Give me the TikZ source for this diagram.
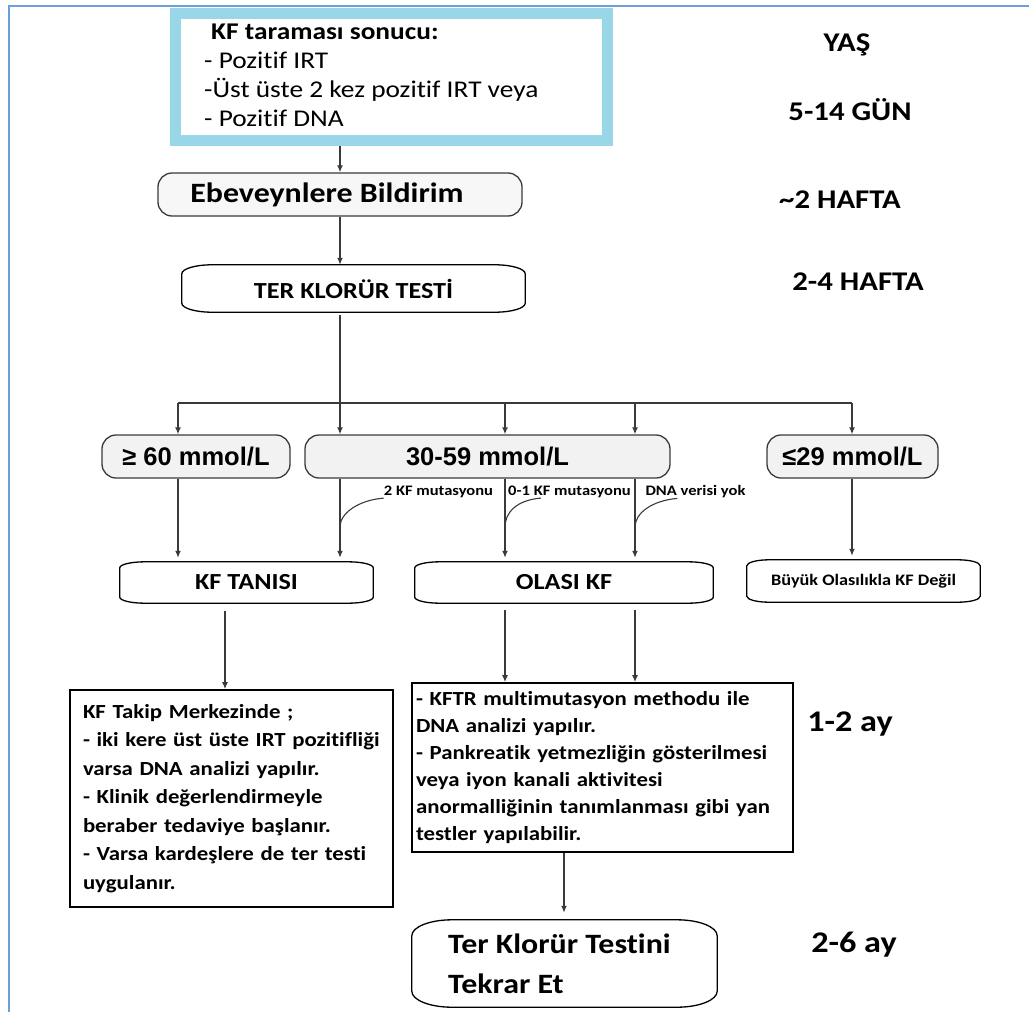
\documentclass[tikz,border=0pt]{standalone}
\usepackage{fontspec}
\setmainfont{Carlito}[FakeStretch=1.14, Ligatures={NoCommon,NoRare}]
\newfontfamily\arialfont{Liberation Sans}
\usetikzlibrary{arrows.meta,calc}

\definecolor{linec}{HTML}{3A3A3A}
\definecolor{cyanf}{HTML}{98D6E8}
\definecolor{framec}{HTML}{6A9FDC}
\definecolor{pillf}{HTML}{F2F2F2}

\newcommand\ellframe[3]{%
  \draw[boxline] ($(#1.north west)+(#2,0)$) -- ($(#1.north east)+(-#2,0)$)
    arc[start angle=90,end angle=0,x radius=#2,y radius=#3]
    -- ($(#1.south east)+(0,#3)$)
    arc[start angle=0,end angle=-90,x radius=#2,y radius=#3]
    -- ($(#1.south west)+(#2,0)$)
    arc[start angle=-90,end angle=-180,x radius=#2,y radius=#3]
    -- ($(#1.north west)+(0,-#3)$)
    arc[start angle=180,end angle=90,x radius=#2,y radius=#3] -- cycle;}

\begin{document}
\begin{tikzpicture}[x=1pt,y=1pt,
  arr/.style={draw=linec, line width=1.5pt, -{Latex[length=7pt,width=6pt]}},
  plainline/.style={draw=linec, line width=1.5pt},
  callout/.style={draw=linec, line width=1.1pt},
  boxline/.style={draw=black, line width=1.3pt},
  pill/.style={draw=linec, line width=1.3pt, fill=pillf, rounded corners=14pt, inner sep=0pt},
  ellnode/.style={inner sep=0pt},
  sqbox/.style={draw=black, line width=1.6pt, inner ysep=0pt, align=left},
  timel/.style={font=\bfseries\fontsize{27}{32}\selectfont},
  timem/.style={font=\bfseries\fontsize{30}{34}\selectfont},
  rangetxt/.style={font=\arialfont\bfseries\fontsize{25.5}{30}\selectfont},
  smalllab/.style={inner sep=0pt, font=\bfseries\fontsize{14.5}{16}\selectfont}
]
\useasboundingbox (0,0) rectangle (1029,-1012);

% outer frame
\draw[framec, line width=1.8pt] (9,-1012) -- (9,-6) -- (1029,-6);

% top screening box
\node[draw=cyanf, line width=11pt, minimum width=432pt, minimum height=127pt, inner sep=0pt] (scr) at (391.5,-77) {};
\node[anchor=west, align=left, inner sep=0pt, font=\fontsize{24}{29}\selectfont] (scrtxt) at (204,-75)
  {\hspace*{7pt}\textbf{KF taraması sonucu:}\\- Pozitif IRT\\-Üst üste 2 kez pozitif IRT veya\\- Pozitif DNA};

% Ebeveynlere
\node[pill, fill=pillf!60, minimum width=364pt, minimum height=43pt, font=\bfseries\fontsize{28}{32}\selectfont] (ebev) at (340,-194.5) {Ebeveynlere Bildirim\hspace*{26pt}};

% TER KLORUR TESTI
\node[ellnode, minimum width=343pt, minimum height=47pt, font=\bfseries\fontsize{23}{28}\selectfont] (ter) at (353.5,-288.5) {TER KLORÜR TESTİ};
\ellframe{ter}{30}{9}

% range boxes
\node[pill, rangetxt, minimum width=188pt, minimum height=43pt] (r1) at (196,-456.5) {≥ 60 mmol/L};
\node[pill, rangetxt, minimum width=365pt, minimum height=43pt] (r2) at (487.5,-456.5) {30-59 mmol/L};
\node[pill, rangetxt, minimum width=171pt, minimum height=43pt] (r3) at (852.5,-456.5) {≤29 mmol/L};

% result boxes
\node[ellnode, minimum width=253pt, minimum height=41pt, font=\bfseries\fontsize{23}{28}\selectfont] (t1) at (246.5,-582.5) {KF TANISI};
\ellframe{t1}{25}{6}
\node[ellnode, minimum width=298pt, minimum height=41pt, font=\bfseries\fontsize{23}{28}\selectfont] (t2) at (564,-582.5) {OLASI KF};
\ellframe{t2}{25}{6}
\node[ellnode, minimum width=233pt, minimum height=42pt, font=\bfseries\fontsize{16}{20}\selectfont] (t3) at (863.5,-581) {Büyük Olasılıkla KF Değil};
\ellframe{t3}{22}{6}

% labels on branches
\node[smalllab] (l1) at (438.5,-492) {2 KF mutasyonu};
\node[smalllab] (l2) at (569.5,-492) {0-1 KF mutasyonu};
\node[smalllab] (l3) at (695.5,-492) {DNA verisi yok};

% lower boxes
\node[sqbox, inner xsep=13pt, text width=297pt, minimum height=217pt, font=\bfseries\fontsize{20}{28.5}\selectfont] (kft) at (231.5,-798.5)
  {KF Takip Merkezinde ;\\- iki kere üst üste IRT pozitifliği\\varsa DNA analizi yapılır.\\- Klinik değerlendirmeyle\\beraber tedaviye başlanır.\\- Varsa kardeşlere de ter testi\\uygulanır.};
\node[sqbox, inner xsep=4pt, text width=373pt, minimum height=169pt, font=\bfseries\fontsize{20}{27}\selectfont] (dna) at (602.5,-767.5)
  {- KFTR multimutasyon methodu ile\\DNA analizi yapılır.\\- Pankreatik yetmezliğin gösterilmesi\\veya iyon kanali aktivitesi\\anormalliğinin tanımlanması gibi yan\\testler yapılabilir.};

\node[ellnode, minimum width=305pt, minimum height=87pt, align=left, font=\bfseries\fontsize{28}{40}\selectfont] (ter2) at (564.5,-963.5)
  {Ter Klorür Testini\hspace*{10pt}\\Tekrar Et};
\ellframe{ter2}{40}{16}

% time labels
\node[timel] (yas) at (847,-45) {YAŞ};
\node[timel] (g1) at (850,-110) {5-14 GÜN};
\node[timel] (g2) at (840,-200) {\textasciitilde 2 HAFTA};
\node[timel] (g3) at (858,-282) {2-4 HAFTA};
\node[timem] (g4) at (850,-724) {1-2 ay};
\node[timem] (g5) at (854,-945) {2-6 ay};

% coordinates
\coordinate (busL) at (178,-403);
\coordinate (busR) at (852,-403);
\coordinate (xa) at (340,-403);
\coordinate (xb) at (505,-403);
\coordinate (xc) at (635,-403);
\coordinate (xd) at (225,-610);
\coordinate (xe) at (564,-860);
\coordinate (c1) at (340,-527);
\coordinate (c2) at (505,-527);
\coordinate (c3) at (635,-527);

% connectors
\draw[arr] (scr.south -| ebev.north) -- (ebev.north);
\draw[arr] (ebev.south) -- (ebev.south |- ter.north);
\draw[plainline] (busL) -- (busR);
\draw[arr, shorten <=3pt] (ter.south -| xa) -- (r2.north -| xa);
\draw[arr] (busL) -- (r1.north -| busL);
\draw[arr] (xb) -- (r2.north -| xb);
\draw[arr] (xc) -- (r2.north -| xc);
\draw[arr] (busR) -- (r3.north -| busR);

\draw[arr, shorten >=4pt] (r1.south -| busL) -- (t1.north -| busL);
\draw[arr, shorten >=4pt] (r2.south -| xa) -- (t1.north -| xa);
\draw[arr, shorten >=4pt] (r2.south -| xb) -- (t2.north -| xb);
\draw[arr, shorten >=4pt] (r2.south -| xc) -- (t2.north -| xc);
\draw[arr, shorten >=4pt] (r3.south -| busR) -- (t3.north -| busR);

\draw[callout] (l1.south west) .. controls +(-25,-2) and +(0,14) .. (c1);
\draw[callout] ([xshift=33pt]l2.south west) .. controls +(-25,-2) and +(0,14) .. (c2);
\draw[callout] ([xshift=32pt]l3.south west) .. controls +(-25,-2) and +(0,14) .. (c3);

\draw[arr, shorten <=8pt] (t1.south -| xd) -- (kft.north -| xd);
\draw[arr, shorten <=7pt] (t2.south -| xb) -- (dna.north -| xb);
\draw[arr, shorten <=7pt] (t2.south -| xc) -- (dna.north -| xc);
\draw[arr, shorten >=7pt] (dna.south -| xe) -- (ter2.north -| xe);
\end{tikzpicture}
\end{document}
